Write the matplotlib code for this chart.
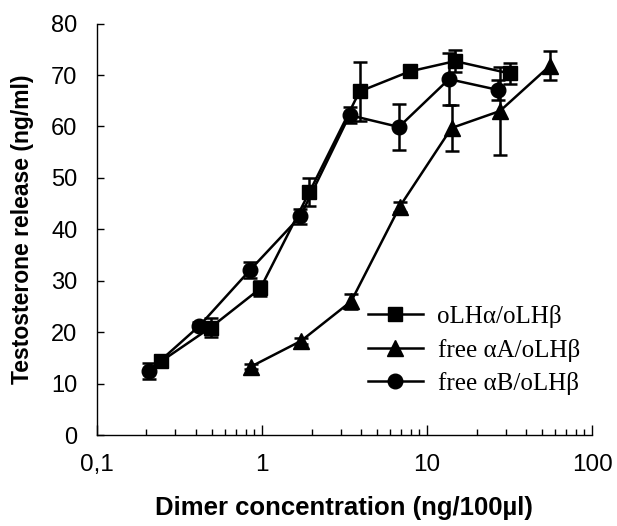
import matplotlib
matplotlib.use("Agg")
import matplotlib.pyplot as plt
import numpy as np

# oLHalpha/oLHbeta (squares)
sq_x = [0.245, 0.49, 0.98, 1.94, 3.91, 7.87, 14.8, 31.8]
sq_y = [14.3, 20.9, 28.5, 47.2, 66.8, 70.7, 72.7, 70.3]
sq_err = [0.8, 1.9, 1.5, 2.7, 5.8, 1.0, 2.1, 2.0]

# free alphaA/oLHbeta (triangles)
tr_x = [0.86, 1.73, 3.48, 6.84, 14.1, 27.7, 55.6]
tr_y = [13.3, 18.3, 26.0, 44.4, 59.7, 63.0, 71.8]
tr_err = [0.5, 0.6, 1.5, 1.0, 4.4, 8.6, 2.8]

# free alphaB/oLHbeta (circles)
ci_x = [0.206, 0.418, 0.85, 1.71, 3.40, 6.77, 13.6, 27.0]
ci_y = [12.4, 21.2, 32.1, 42.5, 62.2, 59.9, 69.2, 67.1]
ci_err = [1.6, 0.8, 1.5, 1.5, 1.6, 4.5, 5.0, 2.0]

labels = ["oLH\u03b1/oLH\u03b2", "free \u03b1A/oLH\u03b2", "free \u03b1B/oLH\u03b2"]
xticks = [0.1, 1, 10, 100]
xticklabels = ["0,1", "1", "10", "100"]
yticks = list(range(0, 81, 10))

plt.rcParams['font.family'] = ['Liberation Sans', 'DejaVu Sans']

fig = plt.figure(figsize=(6.17, 5.26), dpi=100)
ax = fig.add_axes([96.7 / 617, 1 - 435 / 526, (592 - 96.7) / 617, (435 - 23.6) / 526])

style = dict(color="black", ecolor="black", lw=1.8, elinewidth=1.8,
             capsize=5, capthick=1.8, clip_on=False)
c1 = ax.errorbar(sq_x, sq_y, yerr=sq_err, fmt="-s", ms=10.5, **style)
c2 = ax.errorbar(tr_x, tr_y, yerr=tr_err, fmt="-^", ms=11, **style)
c3 = ax.errorbar(ci_x, ci_y, yerr=ci_err, fmt="-o", ms=10.5, **style)

ax.set_xscale("log")
ax.set_xlim(0.1, 100)
ax.set_ylim(0, 80)
ax.set_xticks(xticks)
ax.set_xticklabels(xticklabels)
ax.set_yticks(yticks)

for s in ["top", "right"]:
    ax.spines[s].set_visible(False)
for s in ["left", "bottom"]:
    ax.spines[s].set_linewidth(1.0)

ax.tick_params(axis="x", which="major", direction="in", length=7, width=1,
               labelsize=17.5, pad=14)
ax.tick_params(axis="x", which="minor", direction="in", length=4, width=1)
ax.tick_params(axis="y", which="major", direction="in", length=5, width=1,
               labelsize=17, pad=14)

ax.set_xlabel("Dimer concentration (ng/100\u00b5l)", fontsize=18.5,
              fontweight="bold", labelpad=14)
ax.set_ylabel("Testosterone release (ng/ml)", fontsize=16.5,
              fontweight="bold", labelpad=12)

# legend shows only line + marker, no error bars
ax.legend(handles=[c1[0], c2[0], c3[0]], labels=labels,
          loc="center left", bbox_to_anchor=(355 / 617, 1 - 350 / 526),
          bbox_transform=fig.transFigure, frameon=False, borderpad=0,
          handlelength=2.2, handletextpad=0.6, labelspacing=0.42,
          prop={"family": "Liberation Serif", "size": 18})

fig.savefig("out.png", dpi=100)
